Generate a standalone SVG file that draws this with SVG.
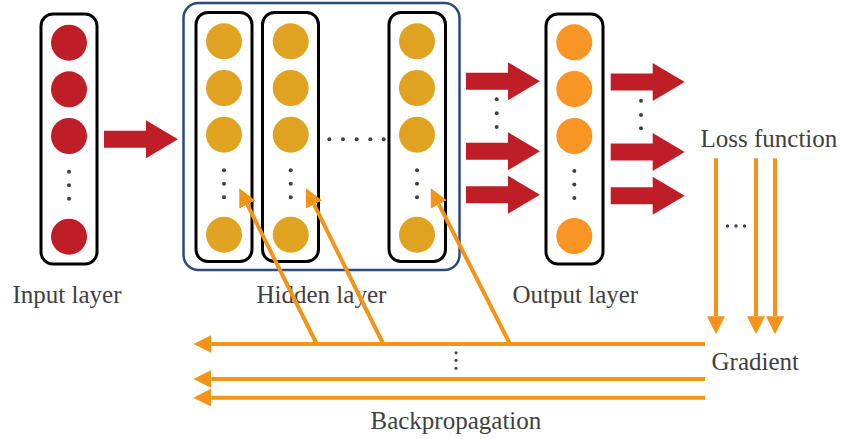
<svg xmlns="http://www.w3.org/2000/svg" xmlns:xlink="http://www.w3.org/1999/xlink" width="842" height="439" viewBox="0 0 842 439">
  <style>
    .col { fill: #ffffff; stroke: #000000; stroke-width: 3; }
    .n-in { fill: #C01E27; }
    .n-hid { fill: #E0A321; }
    .n-out { fill: #F99524; }
    .dot { fill: #404040; }
    .lbl { font-family: "Liberation Serif", "Times New Roman", serif; font-size: 25px; fill: #404040; }
    .grad { fill: none; stroke: #F39419; stroke-width: 4; }
    .fwd { fill: #C01E27; }
  </style>
  <defs>
    <!-- thick forward arrow, origin at the tail centre -->
    <path id="redArrow" class="fwd" d="M0,-8.5 H42 V-19 L74,0 L42,19 V8.5 H0 Z"/>
    <!-- arrowhead for the gradient lines, starts at the line end -->
    <marker id="head" markerUnits="userSpaceOnUse" markerWidth="20" markerHeight="20" viewBox="0 -10 20 20" refX="0" refY="0" orient="auto">
      <path d="M0,-9 L18,0 L0,9 Z" fill="#F39419"/>
    </marker>
    <g id="vdots">
      <circle class="dot" cx="0" cy="0" r="2"/>
      <circle class="dot" cx="0" cy="13.5" r="2"/>
      <circle class="dot" cx="0" cy="27" r="2"/>
    </g>
  </defs>

  <!-- input layer -->
  <g id="input-layer">
    <rect class="col" x="41" y="14" width="56" height="250" rx="12"/>
    <circle class="n-in" cx="69" cy="42.7" r="18"/>
    <circle class="n-in" cx="69" cy="89.3" r="18"/>
    <circle class="n-in" cx="69" cy="136" r="18"/>
    <use xlink:href="#vdots" x="69" y="171.7"/>
    <circle class="n-in" cx="69" cy="236.7" r="18"/>
    <text class="lbl" x="12.5" y="303">Input layer</text>
  </g>

  <!-- hidden layers -->
  <g id="hidden-layer">
    <rect x="183.5" y="3" width="276" height="267" rx="15" fill="none" stroke="#2E4A7D" stroke-width="2.5"/>
    <g id="hidden-1">
      <rect class="col" x="196" y="12.5" width="56" height="249" rx="12"/>
      <circle class="n-hid" cx="224" cy="41.3" r="18"/>
      <circle class="n-hid" cx="224" cy="88" r="18"/>
      <circle class="n-hid" cx="224" cy="134.7" r="18"/>
      <use xlink:href="#vdots" x="224" y="170.3"/>
      <circle class="n-hid" cx="224" cy="234.7" r="18"/>
    </g>
    <g id="hidden-2">
      <rect class="col" x="262.5" y="12.5" width="56" height="249" rx="12"/>
      <circle class="n-hid" cx="290.7" cy="41.3" r="18"/>
      <circle class="n-hid" cx="290.7" cy="88" r="18"/>
      <circle class="n-hid" cx="290.7" cy="134.7" r="18"/>
      <use xlink:href="#vdots" x="290.7" y="170.3"/>
      <circle class="n-hid" cx="290.7" cy="234.7" r="18"/>
    </g>
    <g id="hidden-gap">
      <circle class="dot" cx="329.3" cy="139.3" r="2"/>
      <circle class="dot" cx="343" cy="139.3" r="2"/>
      <circle class="dot" cx="356.7" cy="139.3" r="2"/>
      <circle class="dot" cx="370.3" cy="139.3" r="2"/>
      <circle class="dot" cx="383.7" cy="139.3" r="2"/>
    </g>
    <g id="hidden-n">
      <rect class="col" x="389" y="12.5" width="56.5" height="249" rx="12"/>
      <circle class="n-hid" cx="417" cy="41.3" r="18"/>
      <circle class="n-hid" cx="417" cy="88" r="18"/>
      <circle class="n-hid" cx="417" cy="134.7" r="18"/>
      <use xlink:href="#vdots" x="417" y="170.3"/>
      <circle class="n-hid" cx="417" cy="234.7" r="18"/>
    </g>
    <text class="lbl" x="256.5" y="302.5">Hidden layer</text>
  </g>

  <!-- output layer -->
  <g id="output-layer">
    <rect class="col" x="546" y="14" width="57" height="250" rx="12"/>
    <circle class="n-out" cx="574.3" cy="42.3" r="18"/>
    <circle class="n-out" cx="574.3" cy="89" r="18"/>
    <circle class="n-out" cx="574.3" cy="136" r="18"/>
    <use xlink:href="#vdots" x="574.3" y="171"/>
    <circle class="n-out" cx="574.3" cy="236" r="18"/>
    <text class="lbl" x="512.5" y="302.5">Output layer</text>
  </g>

  <g id="loss-function">
    <text class="lbl" x="700.5" y="146.5">Loss function</text>
  </g>

  <g id="gradient">
    <text class="lbl" x="711.5" y="369.5">Gradient</text>
  </g>

  <g id="backpropagation">
    <text class="lbl" x="370.5" y="428.5">Backpropagation</text>
  </g>

  <!-- connectors -->
  <g id="connectors">
    <!-- forward pass -->
    <use xlink:href="#redArrow" x="104" y="139.3"/>
    <use xlink:href="#redArrow" x="466" y="81.3"/>
    <use xlink:href="#redArrow" x="466" y="151.3"/>
    <use xlink:href="#redArrow" x="466" y="194.8"/>
    <circle class="dot" cx="496.7" cy="99.3" r="2"/>
    <circle class="dot" cx="496.7" cy="113.3" r="2"/>
    <circle class="dot" cx="496.7" cy="127" r="2"/>
    <use xlink:href="#redArrow" x="610.7" y="82"/>
    <use xlink:href="#redArrow" x="610.7" y="152"/>
    <use xlink:href="#redArrow" x="610.7" y="195.8"/>
    <circle class="dot" cx="641" cy="100.7" r="2"/>
    <circle class="dot" cx="641" cy="115" r="2"/>
    <circle class="dot" cx="641" cy="128.3" r="2"/>

    <!-- loss to gradient -->
    <line class="grad" x1="716" y1="158.3" x2="716" y2="316.3" marker-end="url(#head)"/>
    <line class="grad" x1="756" y1="158.3" x2="756" y2="316.3" marker-end="url(#head)"/>
    <line class="grad" x1="775" y1="158.3" x2="775" y2="316.3" marker-end="url(#head)"/>
    <circle class="dot" cx="727.5" cy="226" r="1.7"/>
    <circle class="dot" cx="736" cy="226" r="1.7"/>
    <circle class="dot" cx="744.5" cy="226" r="1.7"/>

    <!-- gradient flowing back -->
    <line class="grad" x1="705" y1="344" x2="211.3" y2="344" marker-end="url(#head)"/>
    <line class="grad" x1="705" y1="379" x2="211.3" y2="379" marker-end="url(#head)"/>
    <line class="grad" x1="705" y1="397.7" x2="211.3" y2="397.7" marker-end="url(#head)"/>
    <circle class="dot" cx="456" cy="352.7" r="1.5"/>
    <circle class="dot" cx="456" cy="360.3" r="1.5"/>
    <circle class="dot" cx="456" cy="368.3" r="1.5"/>

    <!-- updates into each hidden layer -->
    <line class="grad" x1="316.7" y1="344" x2="247.3" y2="204.4" marker-end="url(#head)"/>
    <line class="grad" x1="383.3" y1="344" x2="314" y2="204.4" marker-end="url(#head)"/>
    <line class="grad" x1="510" y1="344" x2="438.9" y2="204.3" marker-end="url(#head)"/>
  </g>
</svg>
